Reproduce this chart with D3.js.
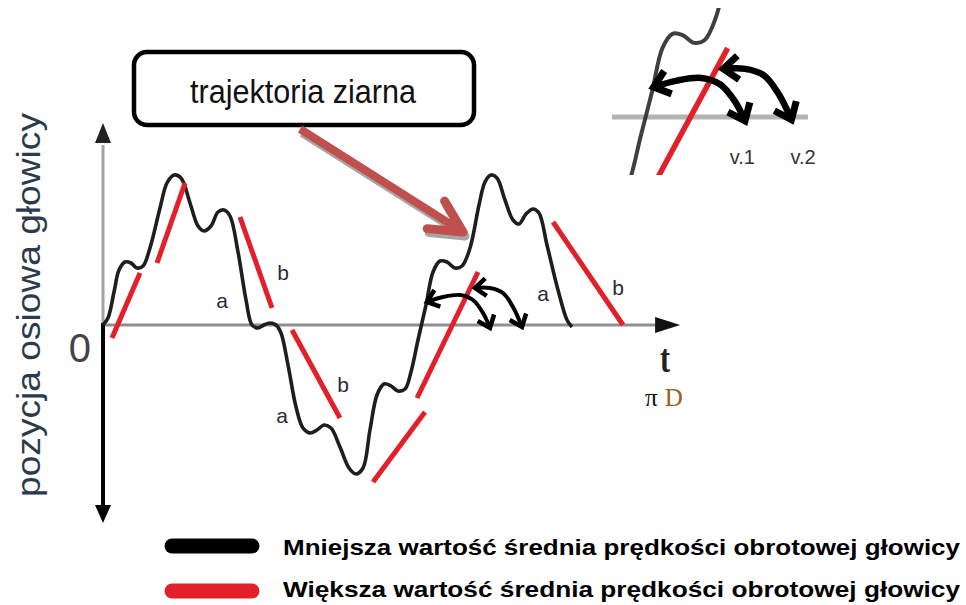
<!DOCTYPE html>
<html>
<head>
<meta charset="utf-8">
<script src="https://cdn.jsdelivr.net/npm/d3@7"></script>
<style>
body { margin: 0; background: #fff; }
svg { display: block; }
</style>
</head>
<body>
<div id="chart"></div>
<script>
// trajektoria ziarna (czarna) - czas t i pozycja osiowa glowicy
var blackT = [0, 0.086, 0.190, 0.276, 0.379, 0.483, 0.586, 0.690, 0.810, 0.983, 1.103, 1.224, 1.345, 1.5, 1.638, 1.741,
    1.862, 1.983, 2.086, 2.190, 2.328, 2.466, 2.569, 2.672, 2.776, 2.879, 2.983, 3.069, 3.190, 3.328, 3.448, 3.569,
    3.690, 3.810, 3.931, 4.086, 4.241, 4.362, 4.483, 4.603, 4.724, 4.845, 4.966, 5.086, 5.207, 5.310, 5.431, 5.569,
    5.690, 5.810, 5.931, 6.069, 6.190, 6.328, 6.483, 6.586, 6.690, 6.793, 6.931, 7.069, 7.172, 7.293, 7.414, 7.517,
    7.655, 7.845, 8.0, 8.086];
var blackPos = [0, 0.035, 0.165, 0.275, 0.315, 0.31, 0.285, 0.295, 0.385, 0.585, 0.71, 0.75, 0.735, 0.61, 0.495, 0.47,
    0.495, 0.565, 0.575, 0.545, 0.365, 0.125, 0, -0.015, 0, 0.01, 0, -0.04, -0.2, -0.41, -0.515, -0.54,
    -0.525, -0.5, -0.515, -0.61, -0.715, -0.745, -0.715, -0.525, -0.35, -0.295, -0.305, -0.33, -0.32, -0.235, -0.075, 0.1,
    0.265, 0.32, 0.315, 0.285, 0.295, 0.385, 0.6, 0.715, 0.75, 0.735, 0.625, 0.525, 0.505, 0.555, 0.58, 0.56,
    0.4, 0.175, 0.025, -0.01];

// czerwone odcinki (wieksza predkosc)
var redStartT = [0.155, 0.931, 2.362, 3.259, 5.414, 5.552, 7.759];
var redStartPos = [-0.065, 0.31, 0.54, -0.025, -0.365, -0.435, 0.515];
var redEndT = [0.638, 1.414, 2.914, 4.086, 6.466, 4.655, 8.966];
var redEndPos = [0.26, 0.71, 0.085, -0.465, 0.265, -0.785, 0];
var insetRed = [4]; // ktory odcinek widac w powiekszeniu

// etykiety a / b
var labelText = ["a", "b", "a", "b", "a", "b"];
var labelT = [2.052, 3.103, 3.086, 4.138, 7.586, 8.879];
var labelPos = [0.125, 0.265, -0.45, -0.295, 0.16, 0.19];

// katy v.1 i v.2 (podwojne strzalki)
var arrow1T = [5.586, 5.862, 6.155, 6.379, 6.552, 6.672];
var arrow1Pos = [0.115, 0.14, 0.15, 0.125, 0.06, -0.015];
var arrow2T = [6.414, 6.672, 6.897, 7.069, 7.224];
var arrow2Pos = [0.185, 0.185, 0.16, 0.09, -0.01];
var angleLabels = ["v.1", "v.2"];
var angleLabelT = [6.64, 7.362];
var angleLabelPos = [-0.155, -0.155];

// strzalka "trajektoria ziarna"
var grainArrowT = [3.397, 6.207];
var grainArrowPos = [0.98, 0.465];

var legendLabels = ["Mniejsza wartość średnia prędkości obrotowej głowicy",
                    "Większa wartość średnia prędkości obrotowej głowicy"];
var legendColors = ["#000000", "#e3202a"];

var width = 966, height = 605;
var red = "#e3202a";

var x = d3.scaleLinear([0, 10], [103, 683]);
var y = d3.scaleLinear([-1, 1], [525, 125]);

// powiekszenie okolicy przeciecia (prawy gorny rog)
var focusT = 5.483, zoomX = 1.45, zoomY = 1.3;
var xi = d3.scaleLinear([focusT, focusT + 1], [645, 645 + 58 * zoomX]);
var yi = d3.scaleLinear([0, 1], [117, 117 - 200 * zoomY]);

var svg = d3.select("#chart")
    .append("svg")
    .attr("width", width)
    .attr("height", height)
    .attr("viewBox", `0 0 ${width} ${height}`);

var defs = svg.append("defs");
function chevronMarker(id, size, w) {
    defs.append("marker")
        .attr("id", id)
        .attr("markerUnits", "userSpaceOnUse")
        .attr("markerWidth", 60).attr("markerHeight", 60)
        .attr("viewBox", "-30 -30 60 60")
        .attr("refX", 0).attr("refY", 0)
        .attr("orient", "auto-start-reverse")
        .style("overflow", "visible")
        .append("path")
        .attr("d", `M${-size},${-size * 0.8}L0,0L${-size},${size * 0.8}`)
        .attr("fill", "none")
        .attr("stroke", "#000")
        .attr("stroke-width", w)
        .attr("stroke-linejoin", "miter");
}
chevronMarker("headMain", 11, 4.5);
chevronMarker("headInset", 15, 7);

defs.append("clipPath").attr("id", "insetClip")
    .append("rect").attr("x", 612).attr("y", 8).attr("width", 205).attr("height", 167);

var blackData = blackT.map(function (t, i) { return [t, blackPos[i]]; });

// osie
svg.append("line")
    .attr("x1", x(0)).attr("x2", x(9.55))
    .attr("y1", y(0)).attr("y2", y(0))
    .attr("stroke", "#8f8f8f").attr("stroke-width", 3);
svg.append("path")
    .attr("d", `M${x(9.95)},${y(0)}L${x(9.95) - 25},${y(0) - 8}L${x(9.95) - 25},${y(0) + 8}Z`)
    .attr("fill", "#111");

svg.append("line")
    .attr("x1", x(0)).attr("x2", x(0))
    .attr("y1", y(0)).attr("y2", y(0.9))
    .attr("stroke", "#a3a3a3").attr("stroke-width", 3);
svg.append("path")
    .attr("d", `M${x(0)},${y(1.01)}L${x(0) - 8},${y(1.01) + 20}L${x(0) + 8},${y(1.01) + 20}Z`)
    .attr("fill", "#222");
svg.append("line")
    .attr("x1", x(0)).attr("x2", x(0))
    .attr("y1", y(0.01)).attr("y2", y(-0.92))
    .attr("stroke", "#000").attr("stroke-width", 4);
svg.append("path")
    .attr("d", `M${x(0)},${y(-0.99)}L${x(0) - 8},${y(-0.99) - 18}L${x(0) + 8},${y(-0.99) - 18}Z`)
    .attr("fill", "#000");

svg.append("text")
    .attr("x", x(-0.397)).attr("y", y(-0.185))
    .attr("text-anchor", "middle")
    .attr("font-family", "Liberation Sans, Arial, sans-serif")
    .attr("font-size", "40px")
    .attr("fill", "#444")
    .text("0");

svg.append("text")
    .attr("transform", "translate(40,305) rotate(-90)")
    .attr("text-anchor", "middle")
    .attr("font-family", "Liberation Sans, Arial, sans-serif")
    .attr("font-size", "33px")
    .attr("fill", "#2b3b4b")
    .attr("textLength", 384)
    .attr("lengthAdjust", "spacingAndGlyphs")
    .text("pozycja osiowa głowicy");

svg.append("text")
    .attr("transform", `translate(${x(9.69)},${y(-0.235)}) scale(1,1.35)`)
    .attr("text-anchor", "middle")
    .attr("font-family", "Liberation Serif, Times New Roman, serif")
    .attr("font-weight", "bold")
    .attr("font-size", "30px")
    .attr("fill", "#222")
    .text("t");

var piD = svg.append("text")
    .attr("x", x(9.345)).attr("y", y(-0.405))
    .attr("font-family", "Liberation Serif, Times New Roman, serif")
    .attr("font-size", "25px")
    .attr("fill", "#111");
piD.append("tspan").text("π");
piD.append("tspan").attr("dx", 7).attr("fill", "#9a5e1e").text("D");

// krzywa czarna
var line = d3.line()
    .x(function (d) { return x(d[0]); })
    .y(function (d) { return y(d[1]); })
    .curve(d3.curveCatmullRom.alpha(0.5));

svg.append("path")
    .datum(blackData)
    .attr("d", line)
    .attr("fill", "none")
    .attr("stroke", "#1e1e1e")
    .attr("stroke-width", 3.6)
    .attr("stroke-linejoin", "round");

// czerwone odcinki
svg.selectAll("line.red")
    .data(redStartT)
    .enter()
    .append("line")
    .attr("class", "red")
    .attr("x1", function (d, i) { return x(redStartT[i]); })
    .attr("y1", function (d, i) { return y(redStartPos[i]); })
    .attr("x2", function (d, i) { return x(redEndT[i]); })
    .attr("y2", function (d, i) { return y(redEndPos[i]); })
    .attr("stroke", red)
    .attr("stroke-width", 5);

svg.selectAll("text.lab")
    .data(labelText)
    .enter()
    .append("text")
    .attr("class", "lab")
    .attr("x", function (d, i) { return x(labelT[i]); })
    .attr("y", function (d, i) { return y(labelPos[i]); })
    .attr("text-anchor", "middle")
    .attr("dominant-baseline", "central")
    .attr("font-family", "Liberation Sans, Arial, sans-serif")
    .attr("font-size", "21px")
    .attr("fill", "#2a2a3a")
    .text(function (d) { return d; });

// podwojne strzalki katow
var arrowLine = d3.line().curve(d3.curveCatmullRom.alpha(0.5));
function drawAngleArrows(g, sx, sy, w, marker) {
    [[arrow1T, arrow1Pos], [arrow2T, arrow2Pos]].forEach(function (a) {
        g.append("path")
            .attr("d", arrowLine(a[0].map(function (t, i) { return [sx(t), sy(a[1][i])]; })))
            .attr("fill", "none")
            .attr("stroke", "#000")
            .attr("stroke-width", w)
            .attr("marker-start", `url(#${marker})`)
            .attr("marker-end", `url(#${marker})`);
    });
}
drawAngleArrows(svg, x, y, 4, "headMain");

// ramka z napisem
svg.append("rect")
    .attr("x", 134).attr("y", 52)
    .attr("width", 340).attr("height", 73)
    .attr("rx", 13).attr("ry", 13)
    .attr("fill", "#fff")
    .attr("stroke", "#000")
    .attr("stroke-width", 4.5);
svg.append("text")
    .attr("x", 303).attr("y", 103)
    .attr("text-anchor", "middle")
    .attr("font-family", "Liberation Sans Narrow, Arial Narrow, Liberation Sans, Arial, sans-serif")
    .attr("font-size", "34px")
    .attr("fill", "#111")
    .attr("textLength", 226)
    .attr("lengthAdjust", "spacingAndGlyphs")
    .text("trajektoria ziarna");

// strzalka do krzywej
function grainArrow(dx, dy, color) {
    var x0 = x(grainArrowT[0]) + dx, y0 = y(grainArrowPos[0]) + dy;
    var x1 = x(grainArrowT[1]) + dx, y1 = y(grainArrowPos[1]) + dy;
    var ang = Math.atan2(y1 - y0, x1 - x0);
    var len = 36, spread = 0.47;
    var w1 = [x1 + len * Math.cos(ang + Math.PI - spread), y1 + len * Math.sin(ang + Math.PI - spread)];
    var w2 = [x1 + len * Math.cos(ang + Math.PI + spread), y1 + len * Math.sin(ang + Math.PI + spread)];
    var g = svg.append("g").attr("fill", "none").attr("stroke", color);
    g.append("line")
        .attr("x1", x0).attr("y1", y0)
        .attr("x2", x1 - 5 * Math.cos(ang)).attr("y2", y1 - 5 * Math.sin(ang))
        .attr("stroke-width", 8);
    g.append("path")
        .attr("d", `M${w1[0]},${w1[1]}L${x1},${y1}L${w2[0]},${w2[1]}`)
        .attr("stroke-width", 9)
        .attr("stroke-linecap", "round")
        .attr("stroke-linejoin", "round");
}
grainArrow(2, 4, "#a6a6a6");
grainArrow(0, 0, "#c0504d");

// powiekszenie
var inset = svg.append("g");
inset.append("line")
    .attr("x1", xi(5.09)).attr("x2", xi(7.42))
    .attr("y1", yi(0)).attr("y2", yi(0))
    .attr("stroke", "#b3b3b3").attr("stroke-width", 5);

var insetClipped = inset.append("g").attr("clip-path", "url(#insetClip)");
var lineInset = d3.line()
    .x(function (d) { return xi(d[0]); })
    .y(function (d) { return yi(d[1]); })
    .curve(d3.curveCatmullRom.alpha(0.5));
insetClipped.append("path")
    .datum(blackData)
    .attr("d", lineInset)
    .attr("fill", "none")
    .attr("stroke", "#2a2a2a")
    .attr("stroke-width", 4)
    .attr("opacity", 0.9);
insetRed.forEach(function (i) {
    insetClipped.append("line")
        .attr("x1", xi(redStartT[i])).attr("y1", yi(redStartPos[i]))
        .attr("x2", xi(redEndT[i])).attr("y2", yi(redEndPos[i]))
        .attr("stroke", red)
        .attr("stroke-width", 5.5);
});
drawAngleArrows(inset, xi, yi, 6.5, "headInset");

inset.selectAll("text")
    .data(angleLabels)
    .enter()
    .append("text")
    .attr("x", function (d, i) { return xi(angleLabelT[i]); })
    .attr("y", function (d, i) { return yi(angleLabelPos[i]); })
    .attr("text-anchor", "middle")
    .attr("dominant-baseline", "central")
    .attr("font-family", "Liberation Sans, Arial, sans-serif")
    .attr("font-size", "20px")
    .attr("fill", "#333")
    .text(function (d) { return d; });

// legenda
var legend = svg.append("g");
legend.selectAll("line")
    .data(legendLabels)
    .enter()
    .append("line")
    .attr("x1", 172).attr("x2", 252)
    .attr("y1", function (d, i) { return 546 + i * 45; })
    .attr("y2", function (d, i) { return 546 + i * 45; })
    .attr("stroke", function (d, i) { return legendColors[i]; })
    .attr("stroke-width", 15)
    .attr("stroke-linecap", "round");
legend.selectAll("text")
    .data(legendLabels)
    .enter()
    .append("text")
    .attr("x", 283)
    .attr("y", function (d, i) { return 555 + i * 42; })
    .attr("font-family", "Liberation Sans Narrow, Arial Narrow, Liberation Sans, Arial, sans-serif")
    .attr("font-weight", "bold")
    .attr("font-size", "22px")
    .attr("fill", "#000")
    .attr("textLength", 677)
    .attr("lengthAdjust", "spacingAndGlyphs")
    .text(function (d) { return d; });
</script>
</body>
</html>
